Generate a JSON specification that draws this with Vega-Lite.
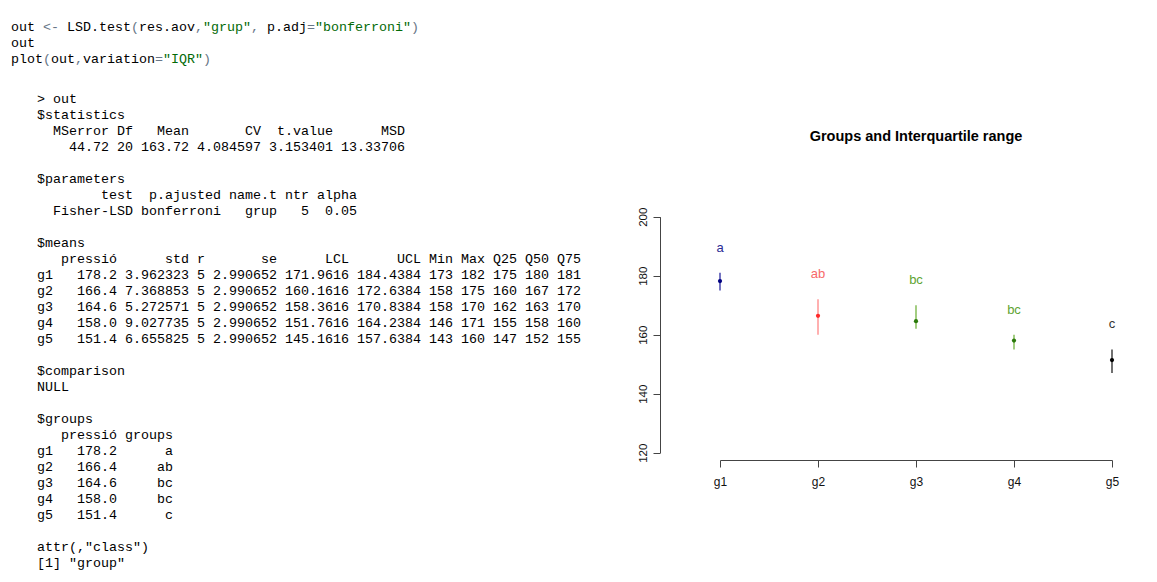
{
  "$schema": "https://vega.github.io/schema/vega-lite/v6.json",
  "padding": {"left": 11, "top": 19, "right": 0, "bottom": 0},
  "background": "white",
  "spacing": 49,
  "bounds": "flush",
  "config": {
    "view": {"stroke": null},
    "axis": {"grid": false}
  },
  "hconcat": [
    {
      "width": 600,
      "height": 552,
      "data": {"values": [
        {"l": 0, "c": 0, "t": "out", "k": "txt"},
        {"l": 0, "c": 4, "t": "<-", "k": "op"},
        {"l": 0, "c": 7, "t": "LSD.test", "k": "txt"},
        {"l": 0, "c": 15, "t": "(", "k": "op"},
        {"l": 0, "c": 16, "t": "res.aov", "k": "txt"},
        {"l": 0, "c": 23, "t": ",", "k": "op"},
        {"l": 0, "c": 24, "t": "\"grup\"", "k": "str"},
        {"l": 0, "c": 30, "t": ",", "k": "op"},
        {"l": 0, "c": 32, "t": "p.adj", "k": "txt"},
        {"l": 0, "c": 37, "t": "=", "k": "op"},
        {"l": 0, "c": 38, "t": "\"bonferroni\"", "k": "str"},
        {"l": 0, "c": 50, "t": ")", "k": "op"},
        {"l": 1, "c": 0, "t": "out", "k": "txt"},
        {"l": 2, "c": 0, "t": "plot", "k": "txt"},
        {"l": 2, "c": 4, "t": "(", "k": "op"},
        {"l": 2, "c": 5, "t": "out", "k": "txt"},
        {"l": 2, "c": 8, "t": ",", "k": "op"},
        {"l": 2, "c": 9, "t": "variation", "k": "txt"},
        {"l": 2, "c": 18, "t": "=", "k": "op"},
        {"l": 2, "c": 19, "t": "\"IQR\"", "k": "str"},
        {"l": 2, "c": 24, "t": ")", "k": "op"},
        {"l": 4.5, "c": 3.25, "t": "> out", "k": "txt"},
        {"l": 5.5, "c": 3.25, "t": "$statistics", "k": "txt"},
        {"l": 6.5, "c": 5.25, "t": "MSerror Df", "k": "txt"},
        {"l": 6.5, "c": 18.25, "t": "Mean", "k": "txt"},
        {"l": 6.5, "c": 29.25, "t": "CV", "k": "txt"},
        {"l": 6.5, "c": 33.25, "t": "t.value", "k": "txt"},
        {"l": 6.5, "c": 46.25, "t": "MSD", "k": "txt"},
        {"l": 7.5, "c": 7.25, "t": "44.72 20 163.72 4.084597 3.153401 13.33706", "k": "txt"},
        {"l": 9.5, "c": 3.25, "t": "$parameters", "k": "txt"},
        {"l": 10.5, "c": 11.25, "t": "test", "k": "txt"},
        {"l": 10.5, "c": 17.25, "t": "p.ajusted name.t ntr alpha", "k": "txt"},
        {"l": 11.5, "c": 5.25, "t": "Fisher-LSD bonferroni", "k": "txt"},
        {"l": 11.5, "c": 29.25, "t": "grup", "k": "txt"},
        {"l": 11.5, "c": 36.25, "t": "5", "k": "txt"},
        {"l": 11.5, "c": 39.25, "t": "0.05", "k": "txt"},
        {"l": 13.5, "c": 3.25, "t": "$means", "k": "txt"},
        {"l": 14.5, "c": 6.25, "t": "pressió", "k": "txt"},
        {"l": 14.5, "c": 19.25, "t": "std r", "k": "txt"},
        {"l": 14.5, "c": 31.25, "t": "se", "k": "txt"},
        {"l": 14.5, "c": 39.25, "t": "LCL", "k": "txt"},
        {"l": 14.5, "c": 48.25, "t": "UCL Min Max Q25 Q50 Q75", "k": "txt"},
        {"l": 15.5, "c": 3.25, "t": "g1", "k": "txt"},
        {"l": 15.5, "c": 8.25, "t": "178.2 3.962323 5 2.990652 171.9616 184.4384 173 182 175 180 181", "k": "txt"},
        {"l": 16.5, "c": 3.25, "t": "g2", "k": "txt"},
        {"l": 16.5, "c": 8.25, "t": "166.4 7.368853 5 2.990652 160.1616 172.6384 158 175 160 167 172", "k": "txt"},
        {"l": 17.5, "c": 3.25, "t": "g3", "k": "txt"},
        {"l": 17.5, "c": 8.25, "t": "164.6 5.272571 5 2.990652 158.3616 170.8384 158 170 162 163 170", "k": "txt"},
        {"l": 18.5, "c": 3.25, "t": "g4", "k": "txt"},
        {"l": 18.5, "c": 8.25, "t": "158.0 9.027735 5 2.990652 151.7616 164.2384 146 171 155 158 160", "k": "txt"},
        {"l": 19.5, "c": 3.25, "t": "g5", "k": "txt"},
        {"l": 19.5, "c": 8.25, "t": "151.4 6.655825 5 2.990652 145.1616 157.6384 143 160 147 152 155", "k": "txt"},
        {"l": 21.5, "c": 3.25, "t": "$comparison", "k": "txt"},
        {"l": 22.5, "c": 3.25, "t": "NULL", "k": "txt"},
        {"l": 24.5, "c": 3.25, "t": "$groups", "k": "txt"},
        {"l": 25.5, "c": 6.25, "t": "pressió groups", "k": "txt"},
        {"l": 26.5, "c": 3.25, "t": "g1", "k": "txt"},
        {"l": 26.5, "c": 8.25, "t": "178.2", "k": "txt"},
        {"l": 26.5, "c": 19.25, "t": "a", "k": "txt"},
        {"l": 27.5, "c": 3.25, "t": "g2", "k": "txt"},
        {"l": 27.5, "c": 8.25, "t": "166.4", "k": "txt"},
        {"l": 27.5, "c": 18.25, "t": "ab", "k": "txt"},
        {"l": 28.5, "c": 3.25, "t": "g3", "k": "txt"},
        {"l": 28.5, "c": 8.25, "t": "164.6", "k": "txt"},
        {"l": 28.5, "c": 18.25, "t": "bc", "k": "txt"},
        {"l": 29.5, "c": 3.25, "t": "g4", "k": "txt"},
        {"l": 29.5, "c": 8.25, "t": "158.0", "k": "txt"},
        {"l": 29.5, "c": 18.25, "t": "bc", "k": "txt"},
        {"l": 30.5, "c": 3.25, "t": "g5", "k": "txt"},
        {"l": 30.5, "c": 8.25, "t": "151.4", "k": "txt"},
        {"l": 30.5, "c": 19.25, "t": "c", "k": "txt"},
        {"l": 32.5, "c": 3.25, "t": "attr(,\"class\")", "k": "txt"},
        {"l": 33.5, "c": 3.25, "t": "[1] \"group\"", "k": "txt"}
      ]},
      "mark": {"type": "text", "align": "left", "baseline": "middle", "font": "Liberation Mono", "fontSize": 13.33},
      "encoding": {
        "x": {"field": "c", "type": "quantitative", "scale": {"domain": [0, 75], "nice": false, "zero": false}, "axis": null},
        "y": {"field": "l", "type": "quantitative", "scale": {"domain": [-0.5, 34], "nice": false, "zero": false, "reverse": true}, "axis": null},
        "text": {"field": "t"},
        "color": {"field": "k", "type": "nominal", "scale": {"domain": ["txt", "op", "str"], "range": ["#000000", "#687687", "#036A07"]}, "legend": null}
      }
    },
    {
      "width": 497,
      "height": 441,
      "title": {
        "text": "Groups and Interquartile range",
        "font": "Liberation Sans",
        "fontSize": 14.5,
        "fontWeight": "bold",
        "color": "#000000",
        "anchor": "middle",
        "frame": "group",
        "baseline": "alphabetic",
        "dx": 7.5,
        "offset": -136
      },
      "data": {"values": [
        {"grupo": "g1", "mean": 178.2, "q25": 175, "q75": 181, "groups": "a"},
        {"grupo": "g2", "mean": 166.4, "q25": 160, "q75": 172, "groups": "ab"},
        {"grupo": "g3", "mean": 164.6, "q25": 162, "q75": 170, "groups": "bc"},
        {"grupo": "g4", "mean": 158.0, "q25": 155, "q75": 160, "groups": "bc"},
        {"grupo": "g5", "mean": 151.4, "q25": 147, "q75": 155, "groups": "c"}
      ]},
      "encoding": {
        "x": {
          "field": "grupo", "type": "nominal",
          "scale": {"type": "point", "range": [60, 452], "padding": 0},
          "axis": {"title": null, "labelAngle": 0, "labelFont": "Liberation Sans", "labelFontSize": 12, "labelColor": "#111111", "domainColor": "#444444", "tickColor": "#444444", "tickSize": 7, "labelPadding": 9, "labelBaseline": "top"}
        }
      },
      "layer": [
        {
          "mark": {"type": "rule", "strokeWidth": 1.4},
          "encoding": {
            "y": {"field": "q25", "type": "quantitative", "scale": {"domain": [120, 200], "range": [433.7, 197.7], "nice": false, "zero": false},
              "axis": {"title": null, "values": [120, 140, 160, 180, 200], "labelAngle": -90, "labelAlign": "center", "labelBaseline": "bottom", "labelFont": "Liberation Sans", "labelFontSize": 11.5, "labelColor": "#111111", "domainColor": "#444444", "tickColor": "#444444", "tickSize": 7, "labelPadding": 5}},
            "y2": {"field": "q75"},
            "color": {"field": "groups", "type": "nominal", "scale": {"domain": ["a", "ab", "bc", "c"], "range": ["#3a3aa8", "#ff8f8f", "#7cb84c", "#333333"]}, "legend": null}
          }
        },
        {
          "mark": {"type": "point", "filled": true, "size": 18, "opacity": 1},
          "encoding": {
            "y": {"field": "mean", "type": "quantitative"},
            "color": {"field": "groups", "type": "nominal", "scale": {"domain": ["a", "ab", "bc", "c"], "range": ["#000080", "#ff2a2a", "#2b7a0b", "#000000"]}, "legend": null}
          }
        },
        {
          "mark": {"type": "text", "baseline": "alphabetic", "align": "center", "dy": -21, "font": "Liberation Sans", "fontSize": 13},
          "encoding": {
            "y": {"field": "q75", "type": "quantitative"},
            "text": {"field": "groups"},
            "color": {"field": "groups", "type": "nominal", "scale": {"domain": ["a", "ab", "bc", "c"], "range": ["#2b2b95", "#f76a6a", "#5ea332", "#333333"]}, "legend": null}
          }
        }
      ],
      "resolve": {"scale": {"color": "independent"}}
    }
  ]
}
